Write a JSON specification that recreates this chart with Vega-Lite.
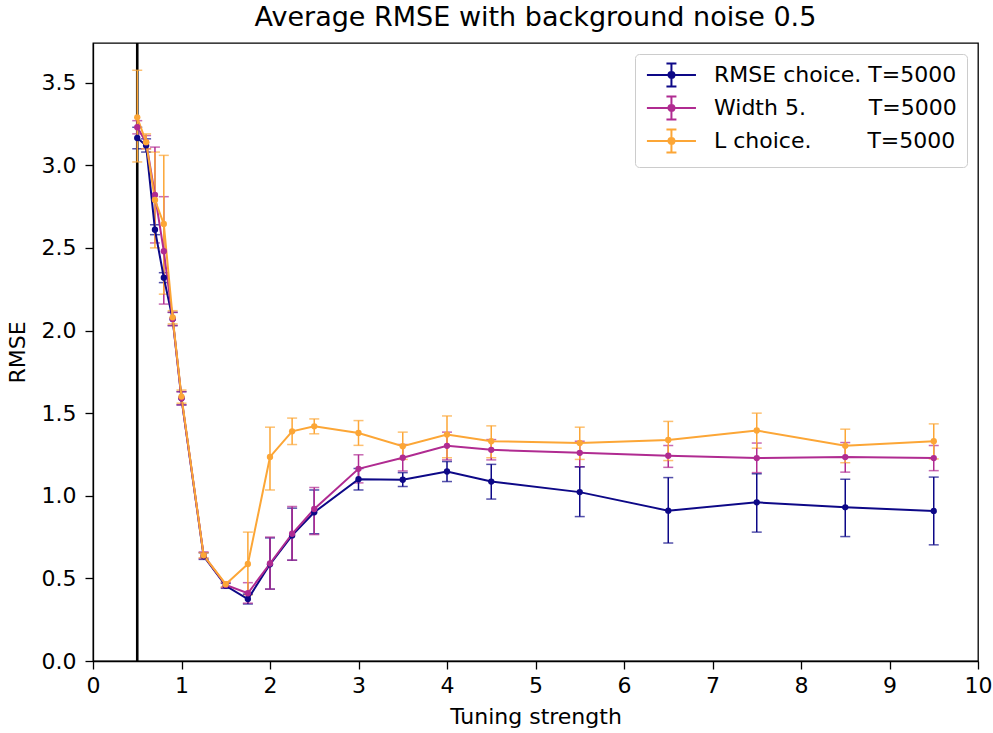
{
  "$schema": "https://vega.github.io/schema/vega-lite/v6.json",
  "width": 885,
  "height": 618,
  "autosize": "none",
  "padding": {"left": 93, "top": 43, "right": 15, "bottom": 72},
  "background": "white",
  "title": {"text": "Average RMSE with background noise 0.5", "fontSize": 27, "font": "DejaVu Sans", "fontWeight": "normal", "color": "#000", "offset": 10},
  "config": {
    "view": {"stroke": "#000", "strokeWidth": 1.3},
    "axis": {"domainColor": "#000", "domainWidth": 1.3, "tickColor": "#000", "tickWidth": 1.3, "tickSize": 8, "labelFont": "DejaVu Sans", "labelFontSize": 22, "labelColor": "#000", "titleFont": "DejaVu Sans", "titleFontSize": 22, "titleFontWeight": "normal", "titleColor": "#000", "grid": false, "labelPadding": 6, "labelFlush": false},
    "legend": {"labelFont": "DejaVu Sans", "labelFontSize": 22, "labelColor": "#000", "labelLimit": 500, "symbolOpacity": 1}
  },
  "datasets": {
    "runs": [
      {"strength": 0.5, "series": "RMSE choice. T=5000", "rmse": 3.165, "lo": 3.10, "hi": 3.23},
      {"strength": 0.6, "series": "RMSE choice. T=5000", "rmse": 3.12, "lo": 3.08, "hi": 3.16},
      {"strength": 0.7, "series": "RMSE choice. T=5000", "rmse": 2.61, "lo": 2.58, "hi": 2.64},
      {"strength": 0.8, "series": "RMSE choice. T=5000", "rmse": 2.32, "lo": 2.29, "hi": 2.35},
      {"strength": 0.9, "series": "RMSE choice. T=5000", "rmse": 2.07, "lo": 2.03, "hi": 2.11},
      {"strength": 1.0, "series": "RMSE choice. T=5000", "rmse": 1.59, "lo": 1.55, "hi": 1.63},
      {"strength": 1.25, "series": "RMSE choice. T=5000", "rmse": 0.635, "lo": 0.615, "hi": 0.655},
      {"strength": 1.5, "series": "RMSE choice. T=5000", "rmse": 0.455, "lo": 0.44, "hi": 0.47},
      {"strength": 1.75, "series": "RMSE choice. T=5000", "rmse": 0.375, "lo": 0.345, "hi": 0.405},
      {"strength": 2.0, "series": "RMSE choice. T=5000", "rmse": 0.585, "lo": 0.435, "hi": 0.745},
      {"strength": 2.25, "series": "RMSE choice. T=5000", "rmse": 0.76, "lo": 0.61, "hi": 0.925},
      {"strength": 2.5, "series": "RMSE choice. T=5000", "rmse": 0.90, "lo": 0.77, "hi": 1.035},
      {"strength": 3.0, "series": "RMSE choice. T=5000", "rmse": 1.10, "lo": 1.035, "hi": 1.165},
      {"strength": 3.5, "series": "RMSE choice. T=5000", "rmse": 1.097, "lo": 1.056, "hi": 1.14},
      {"strength": 4.0, "series": "RMSE choice. T=5000", "rmse": 1.147, "lo": 1.086, "hi": 1.207},
      {"strength": 4.5, "series": "RMSE choice. T=5000", "rmse": 1.086, "lo": 0.98, "hi": 1.19},
      {"strength": 5.5, "series": "RMSE choice. T=5000", "rmse": 1.022, "lo": 0.874, "hi": 1.175},
      {"strength": 6.5, "series": "RMSE choice. T=5000", "rmse": 0.91, "lo": 0.714, "hi": 1.11},
      {"strength": 7.5, "series": "RMSE choice. T=5000", "rmse": 0.96, "lo": 0.78, "hi": 1.133},
      {"strength": 8.5, "series": "RMSE choice. T=5000", "rmse": 0.93, "lo": 0.753, "hi": 1.10},
      {"strength": 9.5, "series": "RMSE choice. T=5000", "rmse": 0.908, "lo": 0.703, "hi": 1.113},
      {"strength": 0.5, "series": "Width 5.\u00a0\u00a0\u00a0\u00a0\u00a0\u00a0\u00a0\u00a0\u00a0T=5000", "rmse": 3.23, "lo": 3.19, "hi": 3.27},
      {"strength": 0.6, "series": "Width 5.\u00a0\u00a0\u00a0\u00a0\u00a0\u00a0\u00a0\u00a0\u00a0T=5000", "rmse": 3.14, "lo": 3.10, "hi": 3.18},
      {"strength": 0.7, "series": "Width 5.\u00a0\u00a0\u00a0\u00a0\u00a0\u00a0\u00a0\u00a0\u00a0T=5000", "rmse": 2.82, "lo": 2.53, "hi": 3.11},
      {"strength": 0.8, "series": "Width 5.\u00a0\u00a0\u00a0\u00a0\u00a0\u00a0\u00a0\u00a0\u00a0T=5000", "rmse": 2.48, "lo": 2.16, "hi": 2.81},
      {"strength": 0.9, "series": "Width 5.\u00a0\u00a0\u00a0\u00a0\u00a0\u00a0\u00a0\u00a0\u00a0T=5000", "rmse": 2.07, "lo": 2.03, "hi": 2.11},
      {"strength": 1.0, "series": "Width 5.\u00a0\u00a0\u00a0\u00a0\u00a0\u00a0\u00a0\u00a0\u00a0T=5000", "rmse": 1.59, "lo": 1.55, "hi": 1.63},
      {"strength": 1.25, "series": "Width 5.\u00a0\u00a0\u00a0\u00a0\u00a0\u00a0\u00a0\u00a0\u00a0T=5000", "rmse": 0.64, "lo": 0.62, "hi": 0.66},
      {"strength": 1.5, "series": "Width 5.\u00a0\u00a0\u00a0\u00a0\u00a0\u00a0\u00a0\u00a0\u00a0T=5000", "rmse": 0.46, "lo": 0.445, "hi": 0.475},
      {"strength": 1.75, "series": "Width 5.\u00a0\u00a0\u00a0\u00a0\u00a0\u00a0\u00a0\u00a0\u00a0T=5000", "rmse": 0.41, "lo": 0.35, "hi": 0.474},
      {"strength": 2.0, "series": "Width 5.\u00a0\u00a0\u00a0\u00a0\u00a0\u00a0\u00a0\u00a0\u00a0T=5000", "rmse": 0.59, "lo": 0.435, "hi": 0.75},
      {"strength": 2.25, "series": "Width 5.\u00a0\u00a0\u00a0\u00a0\u00a0\u00a0\u00a0\u00a0\u00a0T=5000", "rmse": 0.77, "lo": 0.61, "hi": 0.935},
      {"strength": 2.5, "series": "Width 5.\u00a0\u00a0\u00a0\u00a0\u00a0\u00a0\u00a0\u00a0\u00a0T=5000", "rmse": 0.92, "lo": 0.765, "hi": 1.05},
      {"strength": 3.0, "series": "Width 5.\u00a0\u00a0\u00a0\u00a0\u00a0\u00a0\u00a0\u00a0\u00a0T=5000", "rmse": 1.163, "lo": 1.078, "hi": 1.248},
      {"strength": 3.5, "series": "Width 5.\u00a0\u00a0\u00a0\u00a0\u00a0\u00a0\u00a0\u00a0\u00a0T=5000", "rmse": 1.23, "lo": 1.15, "hi": 1.31},
      {"strength": 4.0, "series": "Width 5.\u00a0\u00a0\u00a0\u00a0\u00a0\u00a0\u00a0\u00a0\u00a0T=5000", "rmse": 1.302, "lo": 1.217, "hi": 1.385},
      {"strength": 4.5, "series": "Width 5.\u00a0\u00a0\u00a0\u00a0\u00a0\u00a0\u00a0\u00a0\u00a0T=5000", "rmse": 1.278, "lo": 1.217, "hi": 1.34},
      {"strength": 5.5, "series": "Width 5.\u00a0\u00a0\u00a0\u00a0\u00a0\u00a0\u00a0\u00a0\u00a0T=5000", "rmse": 1.26, "lo": 1.175, "hi": 1.33},
      {"strength": 6.5, "series": "Width 5.\u00a0\u00a0\u00a0\u00a0\u00a0\u00a0\u00a0\u00a0\u00a0T=5000", "rmse": 1.242, "lo": 1.172, "hi": 1.304},
      {"strength": 7.5, "series": "Width 5.\u00a0\u00a0\u00a0\u00a0\u00a0\u00a0\u00a0\u00a0\u00a0T=5000", "rmse": 1.228, "lo": 1.14, "hi": 1.319},
      {"strength": 8.5, "series": "Width 5.\u00a0\u00a0\u00a0\u00a0\u00a0\u00a0\u00a0\u00a0\u00a0T=5000", "rmse": 1.234, "lo": 1.143, "hi": 1.322},
      {"strength": 9.5, "series": "Width 5.\u00a0\u00a0\u00a0\u00a0\u00a0\u00a0\u00a0\u00a0\u00a0T=5000", "rmse": 1.228, "lo": 1.152, "hi": 1.304},
      {"strength": 0.5, "series": "L choice.\u00a0\u00a0\u00a0\u00a0\u00a0\u00a0\u00a0\u00a0T=5000", "rmse": 3.29, "lo": 3.02, "hi": 3.575},
      {"strength": 0.6, "series": "L choice.\u00a0\u00a0\u00a0\u00a0\u00a0\u00a0\u00a0\u00a0T=5000", "rmse": 3.14, "lo": 3.10, "hi": 3.19},
      {"strength": 0.7, "series": "L choice.\u00a0\u00a0\u00a0\u00a0\u00a0\u00a0\u00a0\u00a0T=5000", "rmse": 2.79, "lo": 2.50, "hi": 3.08},
      {"strength": 0.8, "series": "L choice.\u00a0\u00a0\u00a0\u00a0\u00a0\u00a0\u00a0\u00a0T=5000", "rmse": 2.645, "lo": 2.22, "hi": 3.06},
      {"strength": 0.9, "series": "L choice.\u00a0\u00a0\u00a0\u00a0\u00a0\u00a0\u00a0\u00a0T=5000", "rmse": 2.08, "lo": 2.04, "hi": 2.12},
      {"strength": 1.0, "series": "L choice.\u00a0\u00a0\u00a0\u00a0\u00a0\u00a0\u00a0\u00a0T=5000", "rmse": 1.60, "lo": 1.56, "hi": 1.64},
      {"strength": 1.25, "series": "L choice.\u00a0\u00a0\u00a0\u00a0\u00a0\u00a0\u00a0\u00a0T=5000", "rmse": 0.64, "lo": 0.625, "hi": 0.655},
      {"strength": 1.5, "series": "L choice.\u00a0\u00a0\u00a0\u00a0\u00a0\u00a0\u00a0\u00a0T=5000", "rmse": 0.465, "lo": 0.45, "hi": 0.48},
      {"strength": 1.75, "series": "L choice.\u00a0\u00a0\u00a0\u00a0\u00a0\u00a0\u00a0\u00a0T=5000", "rmse": 0.587, "lo": 0.40, "hi": 0.78},
      {"strength": 2.0, "series": "L choice.\u00a0\u00a0\u00a0\u00a0\u00a0\u00a0\u00a0\u00a0T=5000", "rmse": 1.235, "lo": 1.035, "hi": 1.415},
      {"strength": 2.25, "series": "L choice.\u00a0\u00a0\u00a0\u00a0\u00a0\u00a0\u00a0\u00a0T=5000", "rmse": 1.39, "lo": 1.31, "hi": 1.47},
      {"strength": 2.5, "series": "L choice.\u00a0\u00a0\u00a0\u00a0\u00a0\u00a0\u00a0\u00a0T=5000", "rmse": 1.42, "lo": 1.375, "hi": 1.465},
      {"strength": 3.0, "series": "L choice.\u00a0\u00a0\u00a0\u00a0\u00a0\u00a0\u00a0\u00a0T=5000", "rmse": 1.38, "lo": 1.305, "hi": 1.455},
      {"strength": 3.5, "series": "L choice.\u00a0\u00a0\u00a0\u00a0\u00a0\u00a0\u00a0\u00a0T=5000", "rmse": 1.30, "lo": 1.22, "hi": 1.385},
      {"strength": 4.0, "series": "L choice.\u00a0\u00a0\u00a0\u00a0\u00a0\u00a0\u00a0\u00a0T=5000", "rmse": 1.37, "lo": 1.23, "hi": 1.483},
      {"strength": 4.5, "series": "L choice.\u00a0\u00a0\u00a0\u00a0\u00a0\u00a0\u00a0\u00a0T=5000", "rmse": 1.33, "lo": 1.23, "hi": 1.423},
      {"strength": 5.5, "series": "L choice.\u00a0\u00a0\u00a0\u00a0\u00a0\u00a0\u00a0\u00a0T=5000", "rmse": 1.32, "lo": 1.22, "hi": 1.415},
      {"strength": 6.5, "series": "L choice.\u00a0\u00a0\u00a0\u00a0\u00a0\u00a0\u00a0\u00a0T=5000", "rmse": 1.338, "lo": 1.213, "hi": 1.45},
      {"strength": 7.5, "series": "L choice.\u00a0\u00a0\u00a0\u00a0\u00a0\u00a0\u00a0\u00a0T=5000", "rmse": 1.395, "lo": 1.288, "hi": 1.50},
      {"strength": 8.5, "series": "L choice.\u00a0\u00a0\u00a0\u00a0\u00a0\u00a0\u00a0\u00a0T=5000", "rmse": 1.302, "lo": 1.20, "hi": 1.403},
      {"strength": 9.5, "series": "L choice.\u00a0\u00a0\u00a0\u00a0\u00a0\u00a0\u00a0\u00a0T=5000", "rmse": 1.33, "lo": 1.223, "hi": 1.435}
    ],
    "marker": [{"strength": 0.5}]
  },
  "layer": [
    {
      "data": {"name": "marker"},
      "mark": {"type": "rule", "color": "#000", "strokeWidth": 2.6},
      "encoding": {"x": {"field": "strength", "type": "quantitative", "scale": {"domain": [0, 10], "nice": false}, "axis": {"values": [0,1,2,3,4,5,6,7,8,9,10], "format": "d", "title": "Tuning strength", "titlePadding": 10}}}
    },
    {
      "data": {"name": "runs"},
      "mark": {"type": "errorbar", "ticks": {"size": 10, "thickness": 1.5}, "thickness": 1.5},
      "encoding": {
        "x": {"field": "strength", "type": "quantitative", "scale": {"domain": [0, 10], "nice": false}, "axis": {"values": [0,1,2,3,4,5,6,7,8,9,10], "format": "d", "title": "Tuning strength", "titlePadding": 10}},
        "y": {"field": "lo", "type": "quantitative", "scale": {"domain": [0, 3.74], "nice": false}, "axis": {"values": [0,0.5,1,1.5,2,2.5,3,3.5], "format": ".1f", "title": "RMSE", "titlePadding": 12, "labelPadding": 9}},
        "y2": {"field": "hi"},
        "color": {"field": "series", "type": "nominal"}
      }
    },
    {
      "data": {"name": "runs"},
      "mark": {"type": "line", "strokeWidth": 2},
      "encoding": {
        "x": {"field": "strength", "type": "quantitative", "scale": {"domain": [0, 10], "nice": false}, "axis": {"values": [0,1,2,3,4,5,6,7,8,9,10], "format": "d", "title": "Tuning strength", "titlePadding": 10}},
        "y": {"field": "rmse", "type": "quantitative", "scale": {"domain": [0, 3.74], "nice": false}, "axis": {"values": [0,0.5,1,1.5,2,2.5,3,3.5], "format": ".1f", "title": "RMSE", "titlePadding": 12, "labelPadding": 9}},
        "color": {"field": "series", "type": "nominal"}
      }
    },
    {
      "data": {"name": "runs"},
      "mark": {"type": "point", "filled": true, "size": 40, "opacity": 1},
      "encoding": {
        "x": {"field": "strength", "type": "quantitative", "scale": {"domain": [0, 10], "nice": false}, "axis": {"values": [0,1,2,3,4,5,6,7,8,9,10], "format": "d", "title": "Tuning strength", "titlePadding": 10}},
        "y": {"field": "rmse", "type": "quantitative", "scale": {"domain": [0, 3.74], "nice": false}, "axis": {"values": [0,0.5,1,1.5,2,2.5,3,3.5], "format": ".1f", "title": "RMSE", "titlePadding": 12, "labelPadding": 9}},
        "color": {
          "field": "series", "type": "nominal",
          "scale": {"domain": ["RMSE choice. T=5000", "Width 5.\u00a0\u00a0\u00a0\u00a0\u00a0\u00a0\u00a0\u00a0\u00a0T=5000", "L choice.\u00a0\u00a0\u00a0\u00a0\u00a0\u00a0\u00a0\u00a0T=5000"], "range": ["#0d0887", "#b02b91", "#fca636"]},
          "legend": {
            "title": null, "orient": "top-right", "offset": 11,
            "symbolType": "M-1,0H4.4M1.7,-1.26V1.26M1.15,-1.26H2.25M1.15,1.26H2.25M2.03,0A0.33,0.33 0 1,1 1.37,0A0.33,0.33 0 1,1 2.03,0Z",
            "symbolSize": 330, "symbolStrokeWidth": 2, "labelOffset": 47, "labelLimit": 500,
            "padding": 10, "strokeColor": "#cccccc", "fillColor": "white", "cornerRadius": 4, "rowPadding": 1,
            "encode": {"symbols": {"update": {"fill": {"scale": "color", "field": "value"}, "stroke": {"scale": "color", "field": "value"}, "opacity": {"value": 1}}}}
          }
        }
      }
    }
  ]
}
